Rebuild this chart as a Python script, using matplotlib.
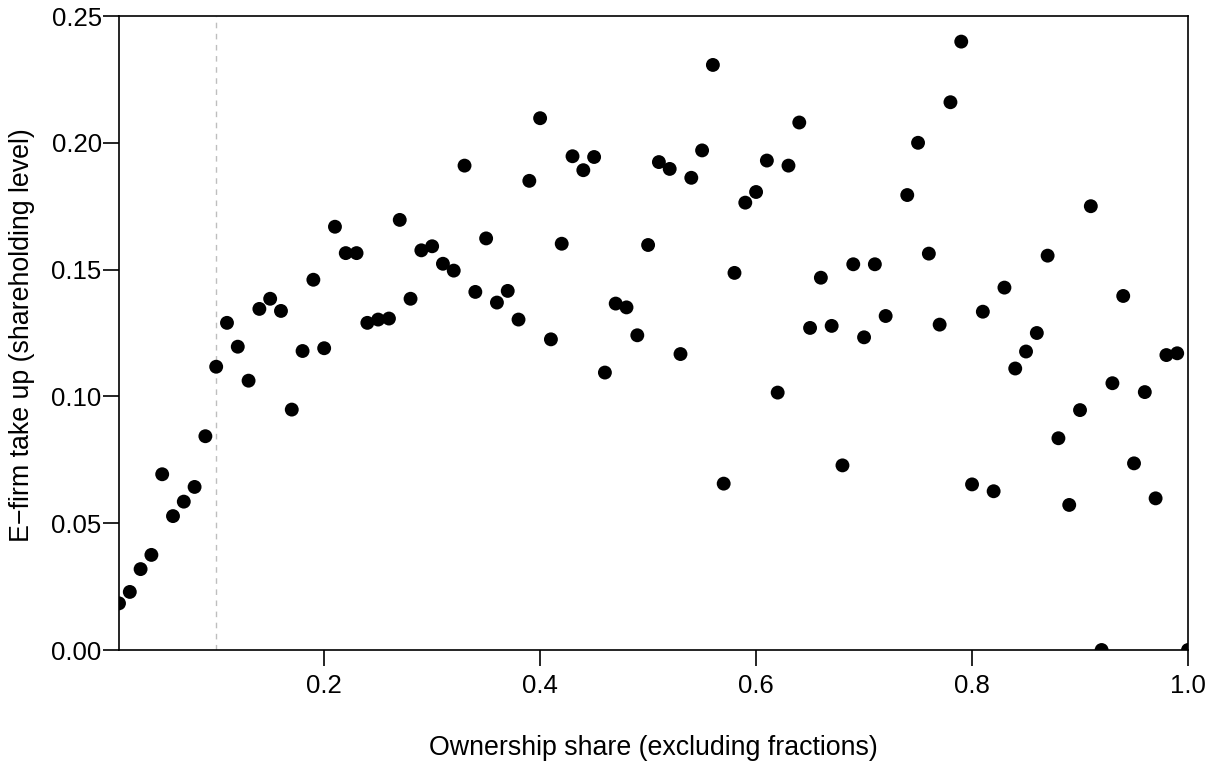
import numpy as np
import matplotlib
matplotlib.use("Agg")
import matplotlib.pyplot as plt

plt.rcParams['font.family'] = ['Liberation Sans', 'DejaVu Sans']

# ownership share grid (0.01 .. 1.00); 0.73 has no value in the chart
share = np.round(np.arange(1, 101) * 0.01, 2)
takeup = [
    0.0184, 0.0229, 0.0319, 0.0375, 0.0693, 0.0528, 0.0585, 0.0643, 0.0843, 0.1117,
    0.1290, 0.1196, 0.1062, 0.1345, 0.1385, 0.1337, 0.0948, 0.1179, 0.1460, 0.1190,
    0.1669, 0.1565, 0.1565, 0.1290, 0.1303, 0.1307, 0.1696, 0.1385, 0.1576, 0.1592,
    0.1523, 0.1496, 0.1910, 0.1412, 0.1623, 0.1370, 0.1416, 0.1303, 0.1850, 0.2097,
    0.1225, 0.1602, 0.1947, 0.1892, 0.1944, 0.1094, 0.1366, 0.1351, 0.1241, 0.1597,
    0.1924, 0.1897, 0.1167, 0.1862, 0.1970, 0.2307, 0.0656, 0.1487, 0.1764, 0.1806,
    0.1930, 0.1015, 0.1910, 0.2080, 0.1270, 0.1468, 0.1278, 0.0728, 0.1521, 0.1233,
    0.1521, 0.1317, np.nan, 0.1794, 0.2000, 0.1563, 0.1283, 0.2160, 0.2399, 0.0653,
    0.1334, 0.0626, 0.1429, 0.1110, 0.1177, 0.1250, 0.1555, 0.0835, 0.0572, 0.0946,
    0.1750, 0.0000, 0.1052, 0.1396, 0.0736, 0.1017, 0.0598, 0.1163, 0.1170, 0.0000,
]
cutoff = 0.10

xticks = [0.2, 0.4, 0.6, 0.8, 1.0]
yticks = [0.00, 0.05, 0.10, 0.15, 0.20, 0.25]

fig = plt.figure(figsize=(12.15, 7.65), dpi=100)
ax = fig.add_axes([119 / 1215, 1 - 650 / 765, (1188 - 119) / 1215, (650 - 16) / 765])

ax.axvline(cutoff, color='#bebebe', lw=1.0, linestyle=(0, (4, 4)), zorder=1)
ax.scatter(share, takeup, s=100, color='black', edgecolors='none', zorder=3)

ax.set_xlim(0.01, 1.0)
ax.set_ylim(0.0, 0.25)
ax.set_xticks(xticks)
ax.set_xticklabels(['%.1f' % t for t in xticks])
ax.set_yticks(yticks)
ax.set_yticklabels(['%.2f' % t for t in yticks])

for sp in ax.spines.values():
    sp.set_linewidth(1.2)
ax.tick_params(axis='both', direction='out', length=11.5, width=1.2, labelsize=18.5)
ax.tick_params(axis='x', pad=6)
ax.tick_params(axis='y', pad=1)

fig.text(653.5 / 1215, 1 - 748 / 765, 'Ownership share (excluding fractions)',
         ha='center', va='center', fontsize=19.3)
fig.text(22 / 1215, 1 - 335 / 765, 'E\u2212firm take up (shareholding level)',
         ha='center', va='center', rotation=90, fontsize=19.3)

fig.savefig('out.png', dpi=100)
